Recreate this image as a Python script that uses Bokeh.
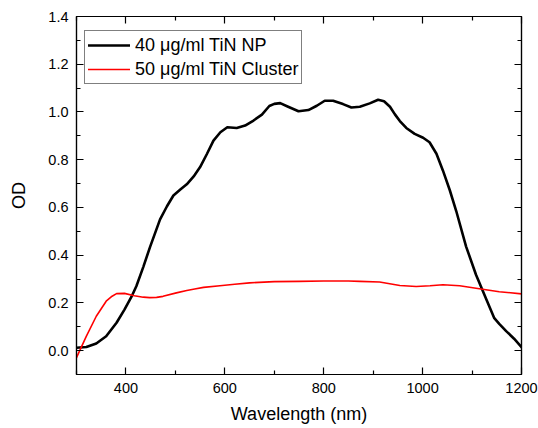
from bokeh.plotting import figure
from bokeh.models import LinearAxis, FixedTicker, Legend, LegendItem, Range1d, PrintfTickFormatter
from bokeh.embed import file_html
from bokeh.resources import INLINE

# ---- data ----
np_wl = [300, 320, 340, 360, 381, 397, 411, 421, 435, 449, 469, 483, 496, 510, 523, 537, 550, 564,
         577, 591, 605, 624, 641, 658, 675, 690, 700, 712, 728, 749, 769, 786, 802, 819, 839, 856,
         873, 893, 910, 922, 934, 944, 954, 967, 984, 1001, 1014, 1028, 1041, 1055, 1068, 1088,
         1108, 1129, 1145, 1155, 1169, 1185, 1200]
np_od = [0.012, 0.015, 0.030, 0.060, 0.117, 0.172, 0.225, 0.270, 0.350, 0.436, 0.550, 0.605, 0.650,
         0.675, 0.697, 0.730, 0.769, 0.825, 0.880, 0.915, 0.936, 0.933, 0.943, 0.964, 0.989, 1.025,
         1.034, 1.037, 1.022, 1.003, 1.008, 1.026, 1.047, 1.047, 1.033, 1.019, 1.022, 1.036, 1.051,
         1.045, 1.022, 0.990, 0.962, 0.933, 0.908, 0.892, 0.873, 0.825, 0.755, 0.672, 0.585, 0.436,
         0.318, 0.214, 0.136, 0.112, 0.082, 0.050, 0.015]

cl_wl = [300, 320, 340, 360, 372, 381, 397, 417, 435, 448, 462, 475, 502, 523, 539, 557, 590, 620,
         650, 700, 750, 800, 850, 873, 913, 954, 987, 1015, 1041, 1075, 1118, 1155, 1200]
cl_od = [-0.029, 0.061, 0.144, 0.207, 0.228, 0.239, 0.240, 0.230, 0.224, 0.222, 0.223, 0.2275, 0.242,
         0.252, 0.258, 0.265, 0.272, 0.278, 0.284, 0.289, 0.290, 0.292, 0.292, 0.290, 0.2875, 0.273,
         0.269, 0.272, 0.276, 0.272, 0.258, 0.247, 0.238]

series_labels = ["40 \u03bcg/ml TiN NP", "50 \u03bcg/ml TiN Cluster"]
x_ticks = [400, 600, 800, 1000, 1200]
x_minor = [300, 500, 700, 900, 1100]
y_ticks = [0.0, 0.2, 0.4, 0.6, 0.8, 1.0, 1.2, 1.4]
y_minor = [-0.1, 0.1, 0.3, 0.5, 0.7, 0.9, 1.1, 1.3]

FONT = "Liberation Sans"

p = figure(width=538, height=428, output_backend="svg", toolbar_location=None,
           x_range=Range1d(300, 1200), y_range=Range1d(-0.1, 1.4),
           min_border_left=76, min_border_right=17, min_border_top=16, min_border_bottom=54,
           x_axis_label="Wavelength (nm)", y_axis_label="OD")
p.background_fill_color = "white"
p.border_fill_color = "white"
p.outline_line_color = "black"
p.outline_line_width = 1.2
p.grid.visible = False

r1 = p.line(np_wl, np_od, line_color="black", line_width=2.6, line_join="round", line_cap="round")
r2 = p.line(cl_wl, cl_od, line_color="#ff0000", line_width=1.6, line_join="round", line_cap="round")

def style(ax, labels=True):
    ax.axis_line_color = "black"
    ax.axis_line_width = 1.2
    ax.major_tick_in = 7
    ax.major_tick_out = 0
    ax.minor_tick_in = 4
    ax.minor_tick_out = 0
    ax.major_tick_line_width = 1.2
    ax.minor_tick_line_width = 1.2
    ax.major_tick_line_color = "black"
    ax.minor_tick_line_color = "black"
    if labels:
        ax.major_label_text_font = FONT
        ax.major_label_text_font_size = "14.5px"
        ax.major_label_text_color = "black"
        ax.major_label_standoff = 8
        ax.axis_label_text_font = FONT
        ax.axis_label_text_font_size = "18px"
        ax.axis_label_text_font_style = "normal"
        ax.axis_label_text_color = "black"
    else:
        ax.major_label_text_color = None
        ax.major_label_text_font_size = "1px"
        ax.major_label_standoff = 0

p.xaxis[0].ticker = FixedTicker(ticks=x_ticks, minor_ticks=x_minor)
p.yaxis[0].ticker = FixedTicker(ticks=y_ticks, minor_ticks=y_minor)
p.yaxis[0].formatter = PrintfTickFormatter(format="%.1f")
style(p.xaxis[0])
style(p.yaxis[0])
p.xaxis[0].axis_label_standoff = 8
p.yaxis[0].axis_label_standoff = 16

top = LinearAxis(ticker=FixedTicker(ticks=x_ticks, minor_ticks=x_minor))
right = LinearAxis(ticker=FixedTicker(ticks=y_ticks, minor_ticks=y_minor))
style(top, labels=False)
style(right, labels=False)
p.add_layout(top, "above")
p.add_layout(right, "right")

legend = Legend(items=[LegendItem(label=series_labels[0], renderers=[r1]),
                       LegendItem(label=series_labels[1], renderers=[r2])],
                location=(8, 290))
legend.label_text_font = FONT
legend.label_text_font_size = "18px"
legend.label_text_color = "black"
legend.border_line_color = "black"
legend.border_line_width = 1
legend.background_fill_color = "white"
legend.background_fill_alpha = 1
legend.padding = 3
legend.spacing = 2
legend.margin = 0
legend.glyph_width = 42
legend.glyph_height = 22
legend.label_height = 22
legend.label_standoff = 5
p.add_layout(legend, "center")

open("out.html", "w").write(file_html(p, INLINE))
